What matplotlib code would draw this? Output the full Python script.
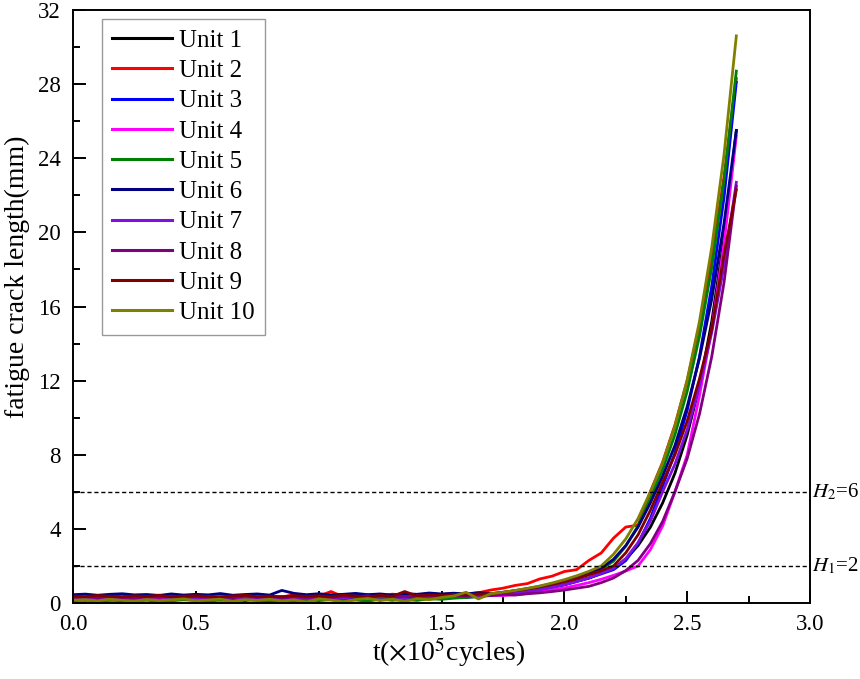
import matplotlib

matplotlib.use("Agg")
import matplotlib.pyplot as plt
import numpy as np
from matplotlib.ticker import MultipleLocator

plt.rcParams["font.family"] = ["Liberation Serif", "DejaVu Serif"]
plt.rcParams["mathtext.fontset"] = "stix"

# time grid, x10^5 cycles (0.00 ... 2.70, step 0.05)
t = np.round(np.arange(0, 55) * 0.05, 2)

unit_1 = [0.28, 0.22, 0.30, 0.25, 0.18, 0.27, 0.33, 0.24, 0.20, 0.29,
          0.26, 0.34, 0.22, 0.28, 0.19, 0.30, 0.25, 0.36, 0.27, 0.21,
          0.32, 0.26, 0.20, 0.31, 0.37, 0.28, 0.24, 0.35, 0.30, 0.27,
          0.38, 0.33, 0.41, 0.36, 0.44, 0.45, 0.53, 0.62, 0.70, 0.85,
          0.99, 1.18, 1.34, 1.62, 1.85, 2.36, 3.10, 4.09, 5.40, 7.00,
          9.07, 11.7, 15.2, 19.7, 25.5]
unit_2 = [0.36, 0.30, 0.40, 0.33, 0.38, 0.29, 0.35, 0.42, 0.31, 0.37,
          0.34, 0.39, 0.30, 0.41, 0.36, 0.28, 0.38, 0.33, 0.44, 0.35,
          0.37, 0.62, 0.34, 0.40, 0.45, 0.36, 0.48, 0.39, 0.43, 0.50,
          0.46, 0.52, 0.50, 0.55, 0.70, 0.80, 0.95, 1.05, 1.30, 1.45,
          1.70, 1.80, 2.30, 2.70, 3.50, 4.10, 4.20, 6.00, 7.60, 9.60,
          12.0, 15.0, 18.6, 23.0, 28.3]
unit_3 = [0.20, 0.15, 0.24, 0.18, 0.12, 0.21, 0.26, 0.17, 0.14, 0.22,
          0.19, 0.25, 0.16, 0.20, 0.13, 0.23, 0.18, 0.27, 0.21, 0.15,
          0.24, 0.19, 0.08, 0.22, 0.28, 0.20, 0.17, 0.26, 0.23, 0.30,
          0.27, 0.33, 0.30, 0.36, 0.40, 0.47, 0.54, 0.63, 0.73, 0.85,
          0.99, 1.16, 1.35, 1.57, 1.80, 2.29, 3.23, 4.56, 6.31, 8.09,
          10.4, 13.3, 17.1, 21.9, 28.1]
unit_4 = [0.30, 0.26, 0.33, 0.28, 0.35, 0.24, 0.31, 0.27, 0.34, 0.29,
          0.32, 0.25, 0.36, 0.30, 0.22, 0.33, 0.28, 0.35, 0.26, 0.31,
          0.29, 0.34, 0.27, 0.38, 0.31, 0.25, 0.36, 0.30, 0.39, 0.33,
          0.37, 0.32, 0.40, 0.36, 0.42, 0.40, 0.45, 0.52, 0.61, 0.71,
          0.82, 0.95, 1.10, 1.28, 1.49, 1.73, 2.00, 2.88, 4.16, 6.00,
          7.99, 11.2, 14.8, 19.4, 25.2]
unit_5 = [0.12, 0.16, 0.10, 0.14, 0.18, 0.11, 0.15, 0.09, 0.13, 0.17,
          0.14, 0.10, 0.16, 0.12, 0.19, 0.13, 0.08, 0.15, 0.11, 0.17,
          0.13, 0.18, 0.12, 0.16, 0.10, 0.21, 0.15, 0.19, 0.14, 0.23,
          0.20, 0.26, 0.30, 0.35, 0.45, 0.53, 0.61, 0.72, 0.84, 0.98,
          1.14, 1.33, 1.56, 1.82, 2.26, 3.07, 4.17, 5.66, 7.21, 9.08,
          11.43, 14.4, 18.1, 22.8, 28.7]
unit_6 = [0.45, 0.48, 0.42, 0.47, 0.50, 0.44, 0.46, 0.41, 0.49, 0.43,
          0.47, 0.44, 0.51, 0.42, 0.46, 0.49, 0.43, 0.68, 0.52, 0.45,
          0.50, 0.44, 0.47, 0.52, 0.45, 0.49, 0.43, 0.51, 0.47, 0.54,
          0.49, 0.53, 0.48, 0.56, 0.50, 0.58, 0.67, 0.78, 0.90, 1.04,
          1.21, 1.40, 1.62, 1.88, 2.36, 3.10, 4.10, 5.40, 6.84, 8.50,
          10.6, 13.2, 16.4, 20.5, 25.5]
unit_7 = [0.32, 0.27, 0.35, 0.30, 0.25, 0.33, 0.29, 0.36, 0.28, 0.31,
          0.26, 0.34, 0.30, 0.37, 0.28, 0.32, 0.25, 0.35, 0.31, 0.29,
          0.36, 0.30, 0.27, 0.34, 0.38, 0.31, 0.35, 0.29, 0.40, 0.34,
          0.38, 0.35, 0.42, 0.39, 0.44, 0.45, 0.53, 0.62, 0.72, 0.85,
          0.99, 1.16, 1.36, 1.60, 1.87, 2.40, 3.26, 4.42, 6.00, 7.49,
          9.35, 11.7, 14.6, 18.2, 22.7]
unit_8 = [0.27, 0.33, 0.29, 0.36, 0.31, 0.26, 0.34, 0.30, 0.37, 0.28,
          0.35, 0.29, 0.32, 0.27, 0.38, 0.31, 0.36, 0.28, 0.33, 0.30,
          0.34, 0.28, 0.37, 0.32, 0.29, 0.39, 0.33, 0.36, 0.31, 0.40,
          0.35, 0.41, 0.37, 0.44, 0.40, 0.46, 0.43, 0.50, 0.55, 0.62,
          0.70, 0.80, 0.90, 1.10, 1.35, 1.75, 2.30, 3.20, 4.40, 6.00,
          7.80, 10.2, 13.3, 17.3, 22.5]
unit_9 = [0.38, 0.34, 0.41, 0.36, 0.32, 0.39, 0.35, 0.42, 0.33, 0.37,
          0.40, 0.35, 0.31, 0.38, 0.42, 0.34, 0.37, 0.33, 0.40, 0.36,
          0.39, 0.34, 0.43, 0.37, 0.33, 0.41, 0.36, 0.62, 0.38, 0.44,
          0.40, 0.46, 0.43, 0.50, 0.50, 0.57, 0.66, 0.76, 0.87, 1.00,
          1.15, 1.32, 1.52, 1.74, 2.00, 2.71, 3.68, 5.00, 6.51, 8.00,
          9.82, 12.1, 14.8, 18.8, 22.3]
unit_10 = [0.15, 0.18, 0.12, 0.20, 0.14, 0.10, 0.19, 0.13, 0.17, 0.22,
           0.12, 0.16, 0.21, 0.09, 0.18, 0.14, 0.20, 0.11, 0.17, 0.05,
           0.22, 0.16, 0.06, 0.19, 0.25, 0.13, 0.21, 0.08, 0.24, 0.18,
           0.30, 0.38, 0.58, 0.22, 0.50, 0.58, 0.68, 0.79, 0.92, 1.08,
           1.26, 1.47, 1.71, 2.00, 2.63, 3.46, 4.56, 6.00, 7.57, 9.55,
           12.05, 15.2, 19.2, 24.2, 30.6]

series = [unit_1, unit_2, unit_3, unit_4, unit_5,
          unit_6, unit_7, unit_8, unit_9, unit_10]
labels = [f"Unit {i}" for i in range(1, 11)]
colors = ["#000000", "#FF0000", "#0000FF", "#FF00FF", "#008000",
          "#000080", "#8010E0", "#800080", "#800000", "#808000"]

thresholds = [2, 6]
threshold_labels = [r"$H_1$=2", r"$H_2$=6"]

fig = plt.figure(figsize=(8.6, 6.79), dpi=100)
ax = fig.add_axes([0.0849, 0.1119, 0.8570, 0.8734])

for vals, lab, col in zip(series, labels, colors):
    ax.plot(t, vals, color=col, linewidth=2.0, label=lab)

for h, lab in zip(thresholds, threshold_labels):
    ax.axhline(h, color="black", linestyle=(0, (3, 2)), linewidth=1.0)
    ax.text(1.002, h, lab, transform=ax.get_yaxis_transform(),
            ha="left", va="center", fontsize=15)

ax.set_xlim(0, 3.0)
ax.set_ylim(0, 32)
ax.xaxis.set_major_locator(MultipleLocator(0.5))
ax.xaxis.set_minor_locator(MultipleLocator(0.25))
ax.yaxis.set_major_locator(MultipleLocator(4))
ax.yaxis.set_minor_locator(MultipleLocator(2))
ax.xaxis.set_major_formatter(matplotlib.ticker.FormatStrFormatter("%.1f"))
ax.tick_params(which="both", direction="in", top=False, right=False,
               width=1.4, labelsize=16.5)
ax.tick_params(which="major", length=9)
ax.tick_params(which="minor", length=5)
ax.tick_params(axis="y", pad=9)
ax.tick_params(axis="x", pad=8)
for sp in ax.spines.values():
    sp.set_linewidth(1.4)

ax.set_xlabel(r"t($\times$10$^5$cycles)", fontsize=20)
ax.xaxis.set_label_coords(0.51, -0.055)
ax.set_ylabel("fatigue crack length(mm)", fontsize=20)
ax.yaxis.set_label_coords(-0.058, 0.55)

leg = ax.legend(loc="upper left", bbox_to_anchor=(0.039, 0.985),
                borderaxespad=0, fontsize=18, frameon=True, fancybox=False,
                edgecolor="#808080", handlelength=2.4, handletextpad=0.25,
                labelspacing=0.31, borderpad=0.42)
leg.get_frame().set_linewidth(1.0)
for line in leg.get_lines():
    line.set_linewidth(2.2)

fig.savefig("out.png", dpi=100)
